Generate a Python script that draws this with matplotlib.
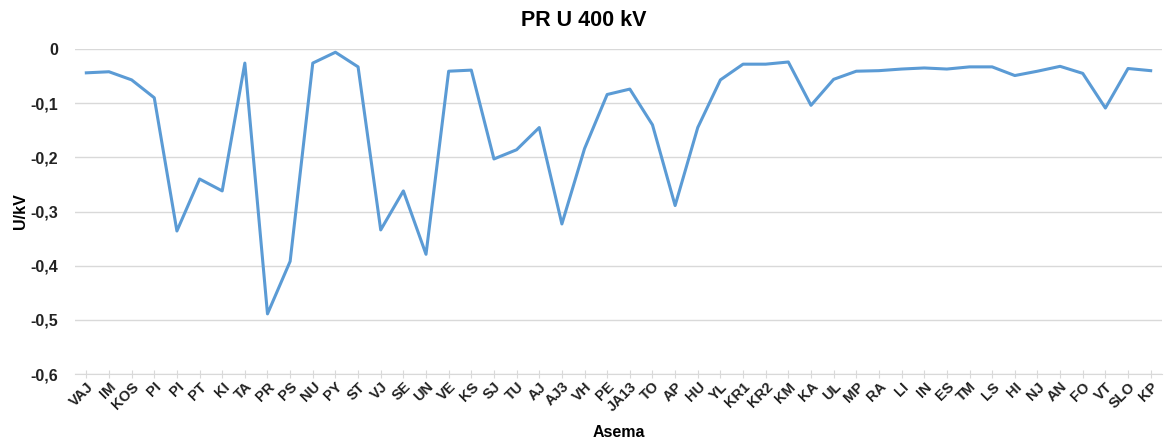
import numpy as np
import matplotlib.pyplot as plt
from matplotlib.ticker import FuncFormatter

plt.rcParams['font.family'] = ['Liberation Sans', 'DejaVu Sans']

# station codes along the x axis
stations = ['VAJ', 'IM', 'KOS', 'PI', 'PI', 'PT', 'KI', 'TA', 'PR', 'PS', 'NU', 'PY',
            'ST', 'VJ', 'SE', 'UN', 'VE', 'KS', 'SJ', 'TU', 'AJ', 'AJ3', 'VH', 'PE',
            'JA13', 'TO', 'AP', 'HU', 'YL', 'KR1', 'KR2', 'KM', 'KA', 'UL', 'MP', 'RA',
            'LI', 'IN', 'ES', 'TM', 'LS', 'HI', 'NJ', 'AN', 'FO', 'VT', 'SLO', 'KP']

# voltage change U/kV
du = [-0.044, -0.042, -0.057, -0.090, -0.336, -0.240, -0.262, -0.026, -0.489, -0.392,
      -0.026, -0.006, -0.033, -0.334, -0.262, -0.379, -0.041, -0.039, -0.203, -0.186,
      -0.145, -0.323, -0.184, -0.084, -0.074, -0.140, -0.289, -0.145, -0.057, -0.028,
      -0.028, -0.024, -0.104, -0.056, -0.041, -0.040, -0.037, -0.035, -0.037, -0.033,
      -0.033, -0.049, -0.041, -0.032, -0.045, -0.109, -0.036, -0.040]

yticks = [0, -0.1, -0.2, -0.3, -0.4, -0.5, -0.6]

fig = plt.figure(figsize=(11.67, 4.43), dpi=100)
ax = fig.add_axes([75 / 1167, 1 - 374 / 443, (1162 - 75) / 1167, (374 - 49) / 443])

x = np.arange(len(stations))
ax.plot(x, du, color='#5B9BD5', lw=2.2, solid_joinstyle='round', zorder=3)

ax.set_xlim(-0.5, len(stations) - 0.5)
ax.set_ylim(-0.6, 0)
ax.set_yticks(yticks)
ax.yaxis.set_major_formatter(FuncFormatter(
    lambda v, p: '0' if abs(v) < 1e-9 else f'{v:.1f}'.replace('.', ',')))

ax.grid(axis='y', color='#D9D9D9', lw=1)
ax.set_axisbelow(True)
for s in ['top', 'right', 'left']:
    ax.spines[s].set_visible(False)
ax.spines['bottom'].set_color('#D9D9D9')
ax.tick_params(axis='y', length=0, pad=12, colors='#222222', labelsize=11.5)
ax.tick_params(axis='x', direction='inout', length=6, color='#D9D9D9',
               labelcolor='#222222', pad=1)

ax.set_xticks(x)
ax.set_xticklabels(stations, rotation=45, ha='right', rotation_mode='anchor',
                   fontsize=10.5, fontweight='bold')
for lab in ax.get_yticklabels():
    lab.set_fontweight('bold')

fig.text(0.5, 1 - 20 / 443, 'PR U 400 kV', fontsize=15.5, fontweight='bold',
         ha='center', va='center')
ax.set_xlabel('Asema', fontsize=11.5, fontweight='bold', labelpad=8)
ax.set_ylabel('U/kV', fontsize=11.5, fontweight='bold', labelpad=2)

fig.savefig('out.png', dpi=100)
